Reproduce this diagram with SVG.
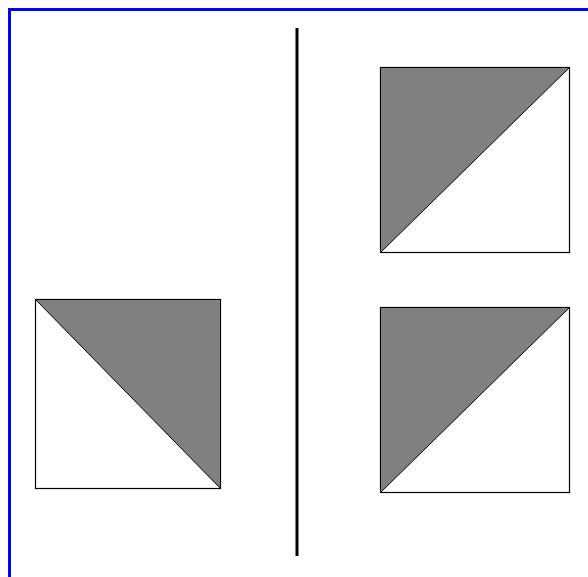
<svg xmlns="http://www.w3.org/2000/svg" width="588" height="577" viewBox="0 0 588 577">
<style>
.sq{fill:#fff;stroke:#000;stroke-width:1.2}
.tri{fill:#808080;stroke:#000;stroke-width:1}
</style>
<rect x="0" y="0" width="588" height="577" fill="#fff"/>
<rect x="9.5" y="9.5" width="600" height="600" fill="none" stroke="#0000ff" stroke-width="3"/>
<g id="connectors">
<line x1="297" y1="28" x2="297" y2="556" stroke="#000" stroke-width="3"/>
</g>
<g id="left-square">
<rect class="sq" x="35.5" y="299.5" width="185" height="189"/>
<polygon class="tri" points="35.5,299.5 220.5,299.5 220.5,488.5"/>
</g>
<g id="top-right-square">
<rect class="sq" x="380.5" y="67.5" width="189" height="185"/>
<polygon class="tri" points="380.5,67.5 569.5,67.5 380.5,252.5"/>
</g>
<g id="bottom-right-square">
<rect class="sq" x="380.5" y="307.5" width="189" height="185"/>
<polygon class="tri" points="380.5,307.5 569.5,307.5 380.5,492.5"/>
</g>
</svg>
